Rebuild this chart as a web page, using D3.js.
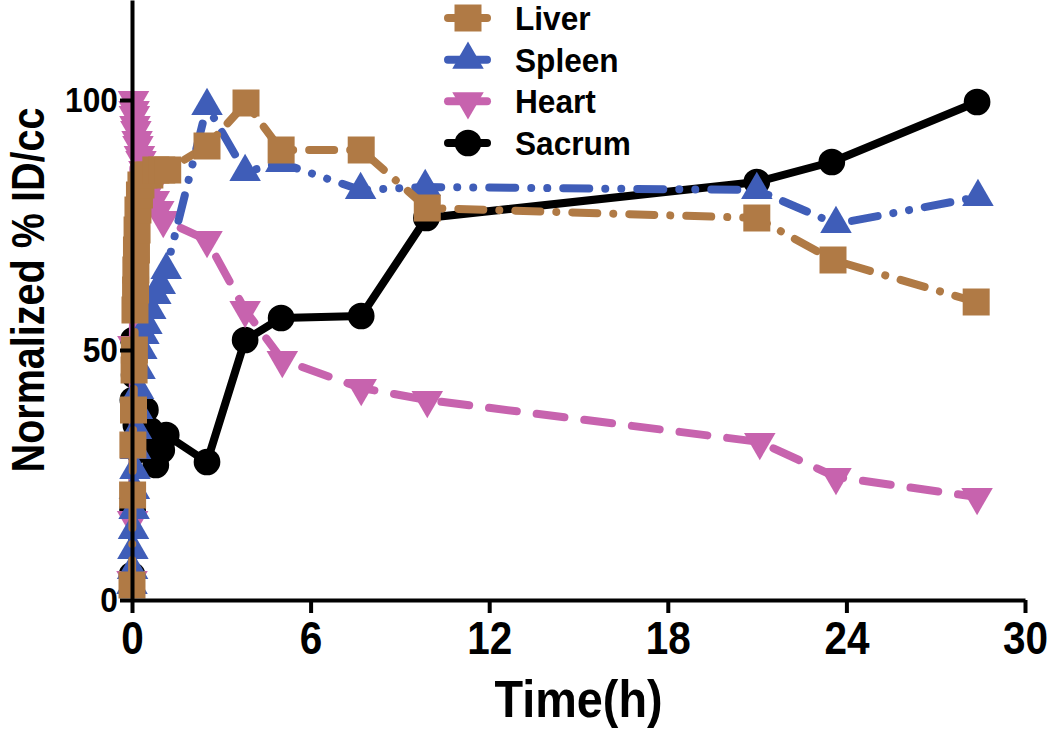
<!DOCTYPE html>
<html>
<head>
<meta charset="utf-8">
<script src="https://cdn.jsdelivr.net/npm/d3@7"></script>
<style>
  html, body { margin: 0; padding: 0; background: #ffffff; }
  svg { display: block; }
  text { font-family: "Liberation Sans", Arial, Helvetica, sans-serif; font-weight: bold; fill: #000; }
</style>
</head>
<body>
<svg id="chart" width="1050" height="729"></svg>
<script>
// ---------- data (time in hours, value in Normalized % ID/cc) ----------
const seriesNames = ["Liver", "Spleen", "Heart", "Sacrum"];

const liverTime  = [0, 0.02, 0.03, 0.05, 0.07, 0.08, 0.1, 0.12, 0.13, 0.15, 0.17, 0.2, 0.25, 0.3, 0.4, 0.6, 0.8, 1.0, 1.2,
                    2.52, 3.83, 5.01, 7.7, 9.92, 20.99, 23.55, 28.36];
const liverValue = [3, 21, 31, 38, 46, 50, 58, 62, 66, 70, 74, 78, 81, 83, 85, 85, 86, 86, 86,
                    90.8, 99.4, 90, 90, 78.4, 76.4, 68, 59.6];

const spleenTime  = [0, 0.02, 0.03, 0.05, 0.07, 0.08, 0.1, 0.12, 0.15, 0.18, 0.22, 0.27, 0.33, 0.4, 0.5, 0.63, 0.8, 0.95, 1.15,
                     2.52, 3.8, 5.0, 7.68, 9.85, 20.99, 23.65, 28.42];
const spleenValue = [3, 6, 10, 14, 18, 22, 26, 30, 34, 38, 42, 46, 50, 53, 55, 58, 61, 63, 66,
                     98.8, 85.6, 87.4, 82, 82.6, 82, 75.2, 80.6];

const heartTime  = [0, 0.02, 0.03, 0.05, 0.07, 0.08, 0.1, 0.13, 0.17, 0.2, 0.25, 0.3, 0.4, 0.5, 0.6, 0.75, 0.9, 1.05,
                    2.52, 3.8, 5.05, 7.7, 9.92, 21.09, 23.65, 28.39];
const heartValue = [4, 16, 51, 100, 98, 97, 95, 94, 92, 91, 89, 88, 86, 84, 82, 80, 78, 76,
                    72, 58, 48, 42.4, 40, 31.6, 24.6, 20.6];

const sacrumTime  = [0, 0.02, 0.03, 0.05, 0.07, 0.1, 0.13, 0.17, 0.2, 0.25, 0.33, 0.45, 0.6, 0.8, 1.0, 1.15,
                     2.52, 3.8, 5.01, 7.7, 9.89, 20.99, 23.51, 28.39];
const sacrumValue = [5, 18, 40, 52, 45, 38, 35, 32, 30, 33, 36, 38, 34, 27, 30, 33,
                     27.6, 52, 56.4, 56.8, 76.4, 83.6, 87.6, 99.6];

const xTickValues = [0, 6, 12, 18, 24, 30];
const yTickValues = [0, 50, 100];
const xTitle = "Time(h)";
const yTitle = "Normalized % ID/cc";

// ---------- styles ----------
const styles = {
  Liver:  { color: "#B07A45", dash: "25,16,0.01,16", symbol: d3.symbolSquare,   size: 729, rotate: 0 },
  Spleen: { color: "#3F5DB8", dash: "26,16,0.01,16,0.01,16", symbol: d3.symbolTriangle, size: 430, rotate: 0 },
  Heart:  { color: "#C763AE", dash: "28,20", symbol: d3.symbolTriangle, size: 430, rotate: 180 },
  Sacrum: { color: "#000000", dash: null, symbol: d3.symbolCircle, size: 560, rotate: 0 }
};

const seriesData = {
  Liver:  liverTime.map((t, i) => ({ t, v: liverValue[i] })),
  Spleen: spleenTime.map((t, i) => ({ t, v: spleenValue[i] })),
  Heart:  heartTime.map((t, i) => ({ t, v: heartValue[i] })),
  Sacrum: sacrumTime.map((t, i) => ({ t, v: sacrumValue[i] }))
};

// ---------- scales ----------
const svg = d3.select("#chart");
const x = d3.scaleLinear().domain([0, 30]).range([132, 1025]);
const y = d3.scaleLinear().domain([0, 120]).range([600, 0]);
const condense = 0.88;

// ---------- series (drawn bottom to top) ----------
const drawOrder = ["Sacrum", "Heart", "Spleen", "Liver"];
const line = d3.line().x(d => x(d.t)).y(d => y(d.v));
const plot = svg.append("g");
drawOrder.forEach(name => {
  const st = styles[name];
  const g = plot.append("g");
  g.append("path")
    .datum(seriesData[name])
    .attr("d", line)
    .attr("fill", "none")
    .attr("stroke", st.color)
    .attr("stroke-width", 8)
    .attr("stroke-linecap", "round")
    .attr("stroke-linejoin", "round")
    .attr("stroke-dasharray", st.dash);
  g.selectAll("path.m")
    .data(seriesData[name])
    .join("path")
    .attr("class", "m")
    .attr("d", d3.symbol().type(st.symbol).size(st.size))
    .attr("transform", d => `translate(${x(d.t)},${y(d.v)}) rotate(${st.rotate})`)
    .attr("fill", st.color);
});

// ---------- axes ----------
const xAxis = svg.append("g")
  .attr("transform", `translate(0,${y(0)})`)
  .call(d3.axisBottom(x).tickValues(xTickValues).tickSize(13).tickSizeOuter(0).tickPadding(8));
xAxis.select(".domain").attr("stroke", "#000").attr("stroke-width", 4);
xAxis.selectAll(".tick line").attr("stroke", "#000").attr("stroke-width", 4);
xAxis.selectAll(".tick text")
  .attr("font-size", 46)
  .attr("font-family", "Liberation Sans, Arial, sans-serif")
  .attr("font-weight", "bold")
  .attr("fill", "#000")
  .attr("transform", `scale(${condense},1)`);

const yAxis = svg.append("g")
  .attr("transform", `translate(${x(0)},0)`)
  .call(d3.axisLeft(y).tickValues(yTickValues).tickSize(12).tickSizeOuter(0).tickPadding(4));
yAxis.select(".domain").attr("stroke", "#000").attr("stroke-width", 4);
yAxis.selectAll(".tick line").attr("stroke", "#000").attr("stroke-width", 4);
yAxis.selectAll(".tick text")
  .attr("font-size", 36)
  .attr("font-family", "Liberation Sans, Arial, sans-serif")
  .attr("font-weight", "bold")
  .attr("fill", "#000")
  .attr("transform", `scale(${condense},1)`);

// ---------- titles ----------
svg.append("text")
  .attr("transform", `translate(${(x(0) + x(30)) / 2},717) scale(0.9,1)`)
  .attr("text-anchor", "middle")
  .attr("font-size", 52)
  .text(xTitle);

svg.append("text")
  .attr("transform", `translate(44,${y(62)}) rotate(-90) scale(0.86,1)`)
  .attr("text-anchor", "middle")
  .attr("font-size", 46)
  .text(yTitle);

// ---------- legend ----------
const legend = svg.append("g");
const legendY = d3.scalePoint().domain(seriesNames).range([18, 143]);
seriesNames.forEach(name => {
  const st = styles[name];
  const cy = legendY(name);
  legend.append("line")
    .attr("x1", 448).attr("x2", 487).attr("y1", cy).attr("y2", cy)
    .attr("stroke", st.color).attr("stroke-width", 8).attr("stroke-linecap", "round");
  legend.append("path")
    .attr("d", d3.symbol().type(st.symbol).size(st.size)())
    .attr("transform", `translate(468,${cy}) rotate(${st.rotate})`)
    .attr("fill", st.color);
  legend.append("text")
    .attr("transform", `translate(515,${cy + 12}) scale(0.93,1)`)
    .attr("font-size", 34)
    .text(name);
});
</script>
</body>
</html>
